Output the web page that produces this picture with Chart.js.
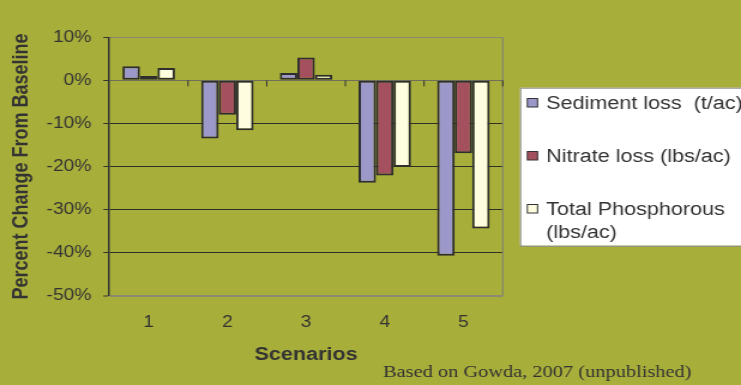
<!DOCTYPE html>
<html>
<head>
<meta charset="utf-8">
<script src="https://cdn.jsdelivr.net/npm/chart.js@4/dist/chart.umd.min.js"></script>
<style>
  html, body { margin: 0; padding: 0; background: #a8ae3a; overflow: hidden; }
  /* the figure is laid out narrow and widened on screen */
  #wrap { width: 618px; height: 385px; transform: scaleX(1.19903); transform-origin: 0 0; }
</style>
</head>
<body>
<div id="wrap"><canvas id="c"></canvas></div>
<script>
const scenarios = ['1', '2', '3', '4', '5'];
const seriesNames = ['Sediment loss  (t/ac)', 'Nitrate loss (lbs/ac)', 'Total Phosphorous (lbs/ac)'];
const sedimentLoss = [3.3, -13.5, 1.7, -23.8, -40.7];
const nitrateLoss = [1.0, -8.0, 5.3, -22.1, -16.9];
const totalPhosphorous = [2.9, -11.6, 1.3, -20.1, -34.4];
const seriesColors = ['#9d98ca', '#a5505f', '#fffde0'];
const yTicks = [10, 0, -10, -20, -30, -40, -50];
const footnote = 'Based on Gowda, 2007 (unpublished)';

const INK = '#333333';
const SANS = '"Liberation Sans", Arial, sans-serif';

function wrapWords(ctx, text, maxW) {
  const words = text.split(' ');
  const lines = [];
  let cur = '';
  for (const w of words) {
    const test = cur === '' ? w : cur + ' ' + w;
    if (cur !== '' && w !== '' && ctx.measureText(test).width > maxW) {
      lines.push(cur);
      cur = w;
    } else {
      cur = test;
    }
  }
  lines.push(cur);
  return lines;
}

const decor = {
  id: 'decor',
  afterDraw(chart) {
    const { ctx, chartArea: a, scales: { x, y } } = chart;
    ctx.save();

    // right edge of the plot frame
    ctx.strokeStyle = '#85856e';
    ctx.lineWidth = 1.2;
    ctx.beginPath();
    ctx.moveTo(a.right, a.top);
    ctx.lineTo(a.right, a.bottom);
    ctx.stroke();

    // category separators hanging from the zero line
    const y0 = y.getPixelForValue(0);
    const half = (x.getPixelForValue(1) - x.getPixelForValue(0)) / 2;
    ctx.strokeStyle = INK;
    ctx.lineWidth = 1;
    for (let i = 0; i < scenarios.length; i++) {
      const px = x.getPixelForValue(i) + half;
      ctx.beginPath();
      ctx.moveTo(px, y0);
      ctx.lineTo(px, y0 + 6);
      ctx.stroke();
    }

    // legend box
    const bx = 433.7, by = 87.7, bw = 200, bh = 158;
    ctx.fillStyle = '#ffffff';
    ctx.fillRect(bx, by, bw, bh);
    ctx.strokeStyle = '#8a8a8a';
    ctx.lineWidth = 1;
    ctx.strokeRect(bx + 0.5, by + 0.5, bw, bh);

    ctx.font = '18px ' + SANS;
    ctx.textBaseline = 'alphabetic';
    ctx.textAlign = 'left';
    chart.data.datasets.forEach((ds, i) => {
      const base = 109 + i * 53;
      ctx.fillStyle = ds.backgroundColor;
      ctx.fillRect(439.8, base - 10.5, 8.5, 8.5);
      ctx.strokeStyle = INK;
      ctx.lineWidth = 1;
      ctx.strokeRect(439.8, base - 10.5, 8.5, 8.5);
      ctx.fillStyle = INK;
      wrapWords(ctx, ds.label, 168).forEach((line, k) => {
        ctx.fillText(line, 455.4, base + k * 23);
      });
    });

    // source note
    ctx.font = '17px "Liberation Serif", "Times New Roman", serif';
    ctx.fillStyle = INK;
    ctx.fillText(footnote, 319.4, 376.5);
    ctx.restore();
  }
};

const gridColor = (c) => {
  const v = c.tick && c.tick.value;
  if (v === yTicks[0] || v === yTicks[yTicks.length - 1]) return '#8a8a74';
  if (v === 0) return '#6f6f5c';
  return '#2f2f28';
};
const gridWidth = (c) => {
  const v = c.tick && c.tick.value;
  if (v === yTicks[yTicks.length - 1]) return 2;
  return 1;
};

new Chart(document.getElementById('c'), {
  type: 'bar',
  data: {
    labels: scenarios,
    datasets: [sedimentLoss, nitrateLoss, totalPhosphorous].map((vals, i) => ({
      label: seriesNames[i],
      data: vals,
      backgroundColor: seriesColors[i],
      borderColor: '#2e2e2e',
      borderWidth: 2,
      borderSkipped: false,
      barPercentage: 1,
      categoryPercentage: 0.667
    }))
  },
  options: {
    responsive: true,
    maintainAspectRatio: false,
    animation: false,
    devicePixelRatio: 1,
    layout: { padding: { top: 37.3, right: 198.7, left: 0, bottom: 0 } },
    plugins: {
      legend: { display: false },
      tooltip: { enabled: false }
    },
    scales: {
      x: {
        grid: { display: false, drawTicks: false },
        border: { display: false },
        ticks: { color: INK, font: { size: 16, family: SANS }, padding: 17 },
        title: {
          display: true, text: 'Scenarios', color: INK,
          font: { size: 18, weight: 'bold', family: SANS },
          padding: { top: 0, bottom: 18.7 }
        },
        afterFit(s) { s.height = 89.3; }
      },
      y: {
        min: -50,
        max: 10,
        afterBuildTicks(s) { s.ticks = yTicks.map(v => ({ value: v })); },
        grid: { color: gridColor, lineWidth: gridWidth, tickLength: 5, tickColor: INK, tickWidth: 1 },
        border: { display: true, color: INK, width: 1.5 },
        ticks: {
          color: INK, font: { size: 16, family: SANS }, padding: 10,
          callback: (v) => v + '%'
        },
        title: {
          display: true, text: 'Percent Change From Baseline', color: INK,
          font: { size: 18, weight: 'bold', family: SANS },
          padding: { top: 7.6, bottom: 0 }
        },
        afterFit(s) { s.width = 91.2; }
      }
    }
  },
  plugins: [decor]
});
</script>
</body>
</html>
